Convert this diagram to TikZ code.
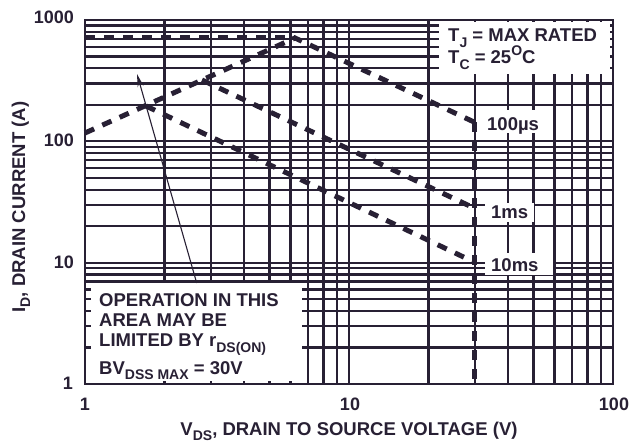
\documentclass[tikz,border=0pt]{standalone}
\usepackage{fontspec}
\setmainfont{Liberation Sans}
\usetikzlibrary{arrows.meta}
\definecolor{ink}{RGB}{40,32,52}
\newcommand\Sbs[1]{\raisebox{-0.28em}{\fontsize{14}{14}\selectfont #1}}
\newcommand\Sps[1]{\raisebox{0.45em}{\fontsize{14}{14}\selectfont #1}}
\begin{document}
\begin{tikzpicture}[x=1pt,y=-1pt,
 grid/.style={draw=ink,line width=2.2pt},
 limit/.style={draw=ink,line width=5pt,dash pattern=on 10pt off 9pt},
 lbl/.style={inner sep=0pt,font=\bfseries\fontsize{18.5}{20}\selectfont,text=ink},
 tick/.style={inner sep=0pt,font=\bfseries\fontsize{18}{20}\selectfont,text=ink},
 blank/.style={fill=white,draw=none,inner sep=0pt,anchor=north west}]
\useasboundingbox (0,0) rectangle (629,443);
\fill[white] (0,0) rectangle (629,443);
% vertical grid
\foreach \d in {1,10}{\foreach \m in {2,...,9}{
  \pgfmathsetmacro\xx{85+264*log10(\m*\d)}
  \draw[grid] (\xx,20) -- (\xx,384);}}
\draw[grid] (349,20) -- (349,384);
% horizontal grid
\foreach \d in {1,10,100}{\foreach \m in {2,...,9}{
  \pgfmathsetmacro\yy{384-121.333*log10(\m*\d)}
  \draw[grid] (85,\yy) -- (613,\yy);}}
\draw[grid] (85,262.67) -- (613,262.67);
\draw[grid] (85,141.33) -- (613,141.33);
% white label fields
\node[blank,minimum width=171pt,minimum height=52pt] (condbox) at (439,22) {};
\node[blank,minimum width=64pt,minimum height=23pt] (b100us) at (485,110) {};
\node[blank,minimum width=49pt,minimum height=19pt] (b1ms) at (485,203) {};
\node[blank,minimum width=68pt,minimum height=22pt] (b10ms) at (485,253) {};
\node[blank,minimum width=211pt,minimum height=98pt] (limbox) at (91,283) {};
% frame
\draw[grid] (85,20) rectangle (613,384);
% limit lines
\coordinate (rdsA) at (85,133);
\coordinate (peak) at (295,38);
\coordinate (curA) at (85,38);
\coordinate (s1ms) at (202,80);
\coordinate (s10ms) at (146,106);
\coordinate (e100us) at (474,122);
\coordinate (e1ms) at (474,208);
\coordinate (e10ms) at (474,262);
\coordinate (bv) at (474,384);
\draw[limit] (curA) -- (peak);
\draw[limit] (rdsA) -- (peak) -- (e100us);
\draw[limit] (s1ms) -- (e1ms);
\draw[limit] (s10ms) -- (e10ms);
\draw[limit] (e100us) -- (bv);
% arrow
\coordinate (tip) at (137,74);
\draw[ink,line width=1.1pt,-{Stealth[length=13pt,width=6pt]}] (limbox.north) -- (tip);
% tick labels
\node[tick,anchor=base east] (y1000) at (74,24) {1000};
\node[tick,anchor=base east] (y100) at (74,147) {100};
\node[tick,anchor=base east] (y10) at (74,269) {10};
\node[tick,anchor=base east] (y1) at (73,389) {1};
\node[tick,anchor=base] (x1) at (85,410) {1};
\node[tick,anchor=base] (x10) at (350,410) {10};
\node[tick,anchor=base] (x100) at (614,410) {100};
% axis titles
\node[lbl,anchor=base] (xtitle) at (349,435) {V\Sbs{DS}, DRAIN TO SOURCE VOLTAGE (V)};
\node[lbl,anchor=base,rotate=90] (ytitle) at (25,207) {I\Sbs{D}, DRAIN CURRENT (A)};
% annotations
\node[lbl,anchor=base west] (tj) at (448,42) {T\Sbs{J} = MAX RATED};
\node[lbl,anchor=base west] (tc) at (448,64) {T\Sbs{C} = 25\Sps{O}C};
\node[lbl,anchor=base west] (t100us) at (487,131) {100µs};
\node[lbl,anchor=base west] (t1ms) at (491,219) {1ms};
\node[lbl,anchor=base west] (t10ms) at (491,272) {10ms};
\node[lbl,anchor=base west] (op1) at (99,307) {OPERATION IN THIS};
\node[lbl,anchor=base west] (op2) at (99,327) {AREA MAY BE};
\node[lbl,anchor=base west] (op3) at (99,347) {LIMITED BY r\Sbs{DS(ON)}};
\node[lbl,anchor=base west] (op4) at (99,374) {BV\Sbs{DSS MAX} = 30V};
\end{tikzpicture}
\end{document}
